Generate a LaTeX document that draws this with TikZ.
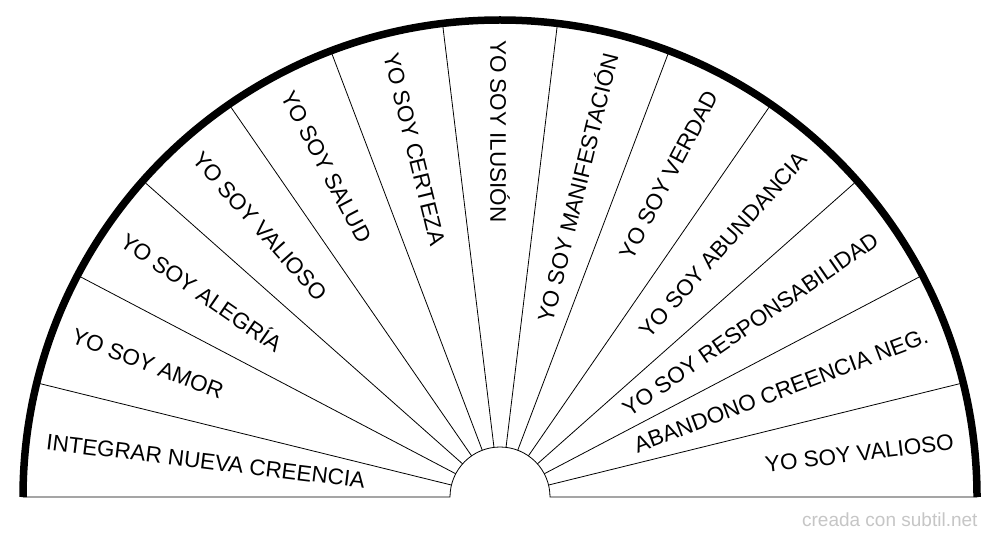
\documentclass[tikz,border=0pt]{standalone}
\usepackage{fontspec}
\usetikzlibrary{calc}
\setmainfont{Liberation Sans}
\begin{document}
\begin{tikzpicture}[x=1pt,y=-1pt,
  lab/.style={font=\fontsize{22.5}{24}\selectfont, inner sep=0pt},
  divider/.style={line width=0.8pt}]
\useasboundingbox[fill=white] (0,0) rectangle (1000,540);
\coordinate (c) at (500,497);
\draw[divider] (23,497) -- (450,497) arc[start angle=180,end angle=0,x radius=50,y radius=-50] -- (977,497);
\foreach \i in {1,...,12}{
  \pgfmathsetmacro\a{180-\i*180/13}
  \draw[divider] ($(c)+(\a:50 and -50)$) -- ($(c)+(\a:477 and -477)$);
}
\draw[line width=7.5pt] (23,497) arc[start angle=180,end angle=0,x radius=477,y radius=-477];
\foreach \t [count=\i] in {INTEGRAR NUEVA CREENCIA,YO SOY AMOR,YO SOY ALEGRÍA,YO SOY VALIOSO,YO SOY SALUD,YO SOY CERTEZA,YO SOY ILUSIÓN,YO SOY MANIFESTACIÓN,YO SOY VERDAD,YO SOY ABUNDANCIA,YO SOY RESPONSABILIDAD,ABANDONO CREENCIA NEG.,YO SOY VALIOSO}{
  \pgfmathsetmacro\a{180-(\i-0.5)*180/13}
  \ifnum\i<8
    \node[lab,anchor=west,rotate=\a-180] (t\i) at ($(c)+(\a:457 and -457)$) {\t};
  \else
    \node[lab,anchor=east,rotate=\a] (t\i) at ($(c)+(\a:457 and -457)$) {\t};
  \fi
}
\node[font=\fontsize{19}{20}\selectfont, text=gray!45, anchor=east] (wm) at (981,520) {creada con subtil.net};
\end{tikzpicture}
\end{document}
